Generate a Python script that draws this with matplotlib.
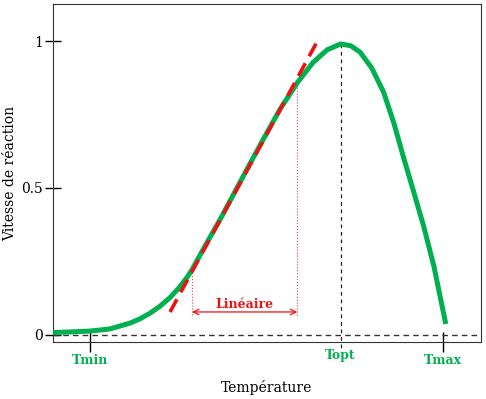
import matplotlib.pyplot as plt

# reaction rate vs temperature
temp = [0.3, 2.5, 5.0, 7.5, 10.1, 11.4, 12.6, 13.9, 15.2, 16.4, 17.4, 18.0,
        19.4, 21.6, 23.2, 25.0, 27.1, 29.2, 31.4, 33.4, 35.2, 36.9, 38.2,
        39.4, 40.9, 42.4, 43.7, 44.9, 46.2, 47.5, 48.8, 50.3]
rate = [0.008, 0.010, 0.013, 0.020, 0.040, 0.055, 0.073, 0.097, 0.127, 0.162,
        0.197, 0.222, 0.290, 0.394, 0.474, 0.564, 0.667, 0.768, 0.858, 0.927,
        0.970, 0.990, 0.984, 0.962, 0.907, 0.825, 0.720, 0.606, 0.488, 0.368,
        0.232, 0.037]

# linear approximation (dashed red)
lin_t = [15.2, 33.9]
lin_v = [0.078, 0.997]

# linear zone limits
lin_zone = [18.0, 31.4]
lin_zone_top = [0.222, 0.858]

t_ticks = [5, 50]
t_labels = ['Tmin', 'Tmax']
t_opt = 36.9
v_opt = 0.99

GREEN = '#00b050'
RED = '#ee1111'

plt.rcParams['font.family'] = ['DejaVu Serif']

fig = plt.figure(figsize=(4.86, 3.99), dpi=100)
ax = fig.add_axes([0.109, 0.143, 0.881, 0.847])

ax.plot(temp, rate, color=GREEN, lw=3.6, solid_capstyle='butt',
        solid_joinstyle='round', zorder=3)
ax.plot(lin_t, lin_v, color=RED, lw=2.6, dashes=(4, 2.2), zorder=4)

# horizontal zero line and Topt line
ax.axhline(0, color='#333333', lw=1, ls=(0, (4, 3)))
ax.plot([t_opt, t_opt], [v_opt, -0.045], color='#222222', lw=0.9,
        ls=(0, (3, 3)), clip_on=False)

# linear zone
for x, top in zip(lin_zone, lin_zone_top):
    ax.plot([x, x], [0.068, top], color=RED, lw=0.8, ls=':', alpha=0.8)
ax.annotate('', xy=(lin_zone[0], 0.078), xytext=(lin_zone[1], 0.078),
            arrowprops=dict(arrowstyle='<->', color=RED, lw=0.9,
                            shrinkA=0, shrinkB=0))
ax.text(sum(lin_zone) / 2, 0.105, 'Linéaire', color=RED, fontsize=9,
        fontweight='bold', ha='center', va='center')

ax.set_xlim(0.3, 54.8)
ax.set_ylim(-0.024, 1.126)
ax.set_yticks([0, 0.5, 1])
ax.set_yticklabels(['0', '0.5', '1'], fontsize=10)
ax.set_xticks(t_ticks)
ax.set_xticklabels(t_labels, fontsize=9, fontweight='bold', color=GREEN)
ax.tick_params(axis='y', direction='inout', length=12, width=1, pad=1)
ax.tick_params(axis='x', direction='inout', length=14, width=1, pad=2)
ax.text(t_opt, -0.07, 'Topt', transform=ax.transData, fontsize=9,
        fontweight='bold', color=GREEN, ha='center', va='center')

for s in ax.spines.values():
    s.set_color('#333333')

ax.set_ylabel('Vitesse de réaction', fontsize=10, labelpad=3)
ax.set_xlabel('Température', fontsize=10, labelpad=9)

fig.savefig('out.png', dpi=100)
